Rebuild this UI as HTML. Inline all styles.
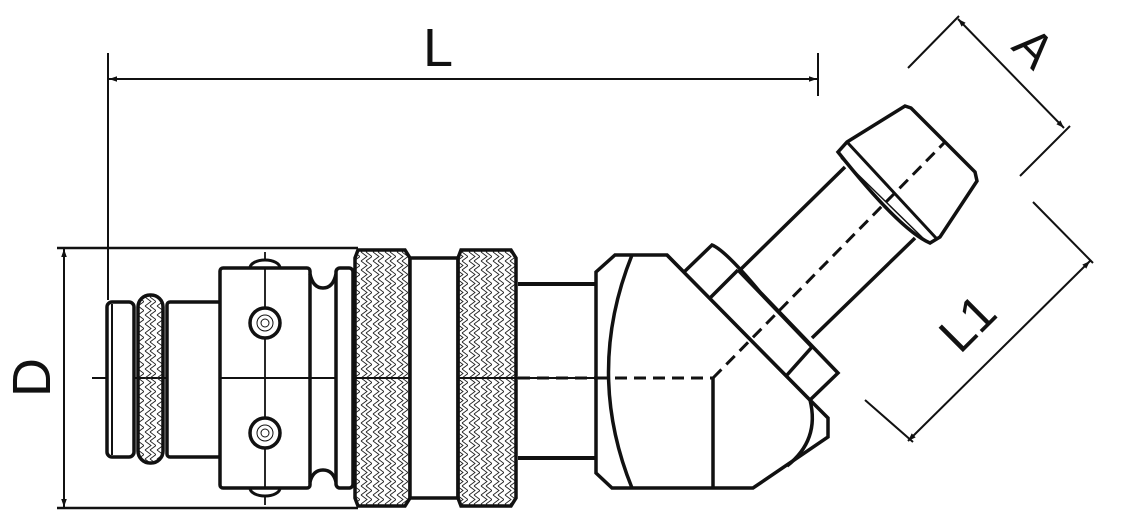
<!DOCTYPE html>
<html><head><meta charset="utf-8"><style>
html,body{margin:0;padding:0;background:#fff;}
svg{display:block;}
text{font-family:"Liberation Sans",sans-serif;fill:#111;}
</style></head><body>
<svg width="1121" height="522" viewBox="0 0 1121 522" xmlns="http://www.w3.org/2000/svg">
<defs>
<pattern id="kn" width="12" height="9" patternUnits="userSpaceOnUse">
<path d="M1 0 L7 4.5 L1 9 M6 0 L12 4.5 L6 9" stroke="#222" stroke-width="0.9" fill="none"/>
</pattern>
<marker id="ar" viewBox="0 0 10 10" refX="10" refY="5" markerWidth="14" markerHeight="8" markerUnits="userSpaceOnUse" orient="auto-start-reverse">
<path d="M0 1.5 L10 5 L0 8.5 Z" fill="#111"/>
</marker>
</defs>
<g stroke="#111" fill="none">
<line x1="108" y1="53" x2="108" y2="300" stroke-width="2"/>
<line x1="818" y1="53" x2="818" y2="96" stroke-width="2"/>
<line x1="109" y1="79" x2="817" y2="79" stroke-width="2" marker-start="url(#ar)" marker-end="url(#ar)"/>
<line x1="57" y1="248" x2="358" y2="248" stroke-width="2.5"/>
<line x1="57" y1="508" x2="358" y2="508" stroke-width="2.5"/>
<line x1="64" y1="249" x2="64" y2="507" stroke-width="2" marker-start="url(#ar)" marker-end="url(#ar)"/>
<line x1="908" y1="68" x2="959" y2="16" stroke-width="2"/>
<line x1="1020" y1="176" x2="1070" y2="126" stroke-width="2"/>
<line x1="958" y1="19" x2="1064" y2="128" stroke-width="2" marker-start="url(#ar)" marker-end="url(#ar)"/>
<line x1="1033" y1="202" x2="1093" y2="263" stroke-width="2"/>
<line x1="865" y1="400" x2="913" y2="442" stroke-width="2"/>
<line x1="1090" y1="261" x2="908" y2="441" stroke-width="2" marker-start="url(#ar)" marker-end="url(#ar)"/>
<line x1="92" y1="378" x2="596" y2="378" stroke-width="2"/>
<line x1="265" y1="252" x2="265" y2="505" stroke-width="1.8"/>

<rect x="107" y="302" width="27" height="155" rx="5" fill="#fff" stroke-width="3.5"/>
<line x1="112" y1="304" x2="112" y2="455" stroke-width="2"/>
<rect x="138" y="295" width="25" height="168" rx="12" fill="url(#kn)" stroke-width="3.5"/>
<rect x="167" y="302" width="54" height="155" rx="3" fill="#fff" stroke-width="3.5"/>
<ellipse cx="265" cy="268" rx="15" ry="8" fill="#fff" stroke-width="3"/>
<ellipse cx="265" cy="488" rx="15" ry="8" fill="#fff" stroke-width="3"/>
<rect x="220" y="268" width="90" height="220" rx="3" fill="#fff" stroke-width="3.5"/>
<line x1="265" y1="268" x2="265" y2="488" stroke-width="1.8"/>
<line x1="220" y1="378" x2="310" y2="378" stroke-width="2"/>
<circle cx="265" cy="323" r="15" fill="#fff" stroke-width="3.5"/>
<circle cx="265" cy="323" r="8" stroke-width="1"/><circle cx="265" cy="323" r="4" stroke-width="1"/>
<circle cx="265" cy="433" r="15" fill="#fff" stroke-width="3.5"/>
<circle cx="265" cy="433" r="8" stroke-width="1"/><circle cx="265" cy="433" r="4" stroke-width="1"/>
<path d="M310 274 Q313 288 323 288 Q333 288 336 274 M310 482 Q313 470 323 470 Q333 470 336 482" stroke-width="3.5"/>
<rect x="336" y="268" width="17" height="220" rx="4" fill="#fff" stroke-width="3.5"/>
<path d="M358 250 L405 250 L410 258 L410 498 L405 506 L358 506 L355 498 L355 258 Z" fill="url(#kn)" stroke-width="3.5"/>
<line x1="355" y1="378" x2="410" y2="378" stroke-width="2"/>
<rect x="410" y="258" width="48" height="240" fill="#fff" stroke-width="3.5"/>
<path d="M461 250 L511 250 L516 258 L516 498 L511 506 L461 506 L458 498 L458 258 Z" fill="url(#kn)" stroke-width="3.5"/>
<line x1="458" y1="378" x2="516" y2="378" stroke-width="2"/>
<line x1="518" y1="284" x2="597" y2="284" stroke-width="4"/>
<line x1="518" y1="458" x2="597" y2="458" stroke-width="4"/>
<line x1="518" y1="378" x2="713" y2="378" stroke-width="3" stroke-dasharray="12 7"/>

<path d="M615 255 L667 255 L810 400 L828 418 L828 437 L753 488 L612 488 L596 473 L596 272 Z" fill="#fff" stroke-width="3.5"/>
<path d="M632 255 Q585 372 632 488" stroke-width="3.5"/>
<path d="M810 400 Q820 440 787 466" stroke-width="3.5"/>
<line x1="713" y1="378" x2="713" y2="488" stroke-width="3.5"/>
<line x1="596" y1="378" x2="713" y2="378" stroke-width="3" stroke-dasharray="12 7"/>
<path d="M683 273 L712 245 Q725 250 760 292 L838 373 L810 400" fill="#fff" stroke-width="3.5"/>
<path d="M667 255 L810 400" stroke-width="3.5"/>
<line x1="710" y1="298" x2="738" y2="270" stroke-width="3.5"/>
<line x1="787" y1="375" x2="812" y2="347" stroke-width="3.5"/>
<line x1="738" y1="270" x2="812" y2="347" stroke-width="3.5"/>
<line x1="740" y1="270" x2="845" y2="167" stroke-width="3.5"/>
<line x1="812" y1="338" x2="915" y2="238" stroke-width="3.5"/>
<path d="M838 152 L847 142 L905 106 L911 108 L975 172 L977 181 L940 237 L930 243 Q900 230 838 152 Z" fill="#fff" stroke-width="3.5"/>
<path d="M847 142 L936 238" stroke-width="3"/>
<path d="M841 158 L928 243" stroke-width="1.5"/>
<line x1="713" y1="378" x2="945" y2="142" stroke-width="3" stroke-dasharray="12 7"/>
</g>
<text x="423" y="66" font-size="54">L</text>
<text transform="translate(50,397) rotate(-90)" font-size="54">D</text>
<text transform="translate(1010,48) rotate(45)" font-size="50">A</text>
<text transform="translate(960,355) rotate(-45)" font-size="50">L1</text>
</svg>
</body></html>
